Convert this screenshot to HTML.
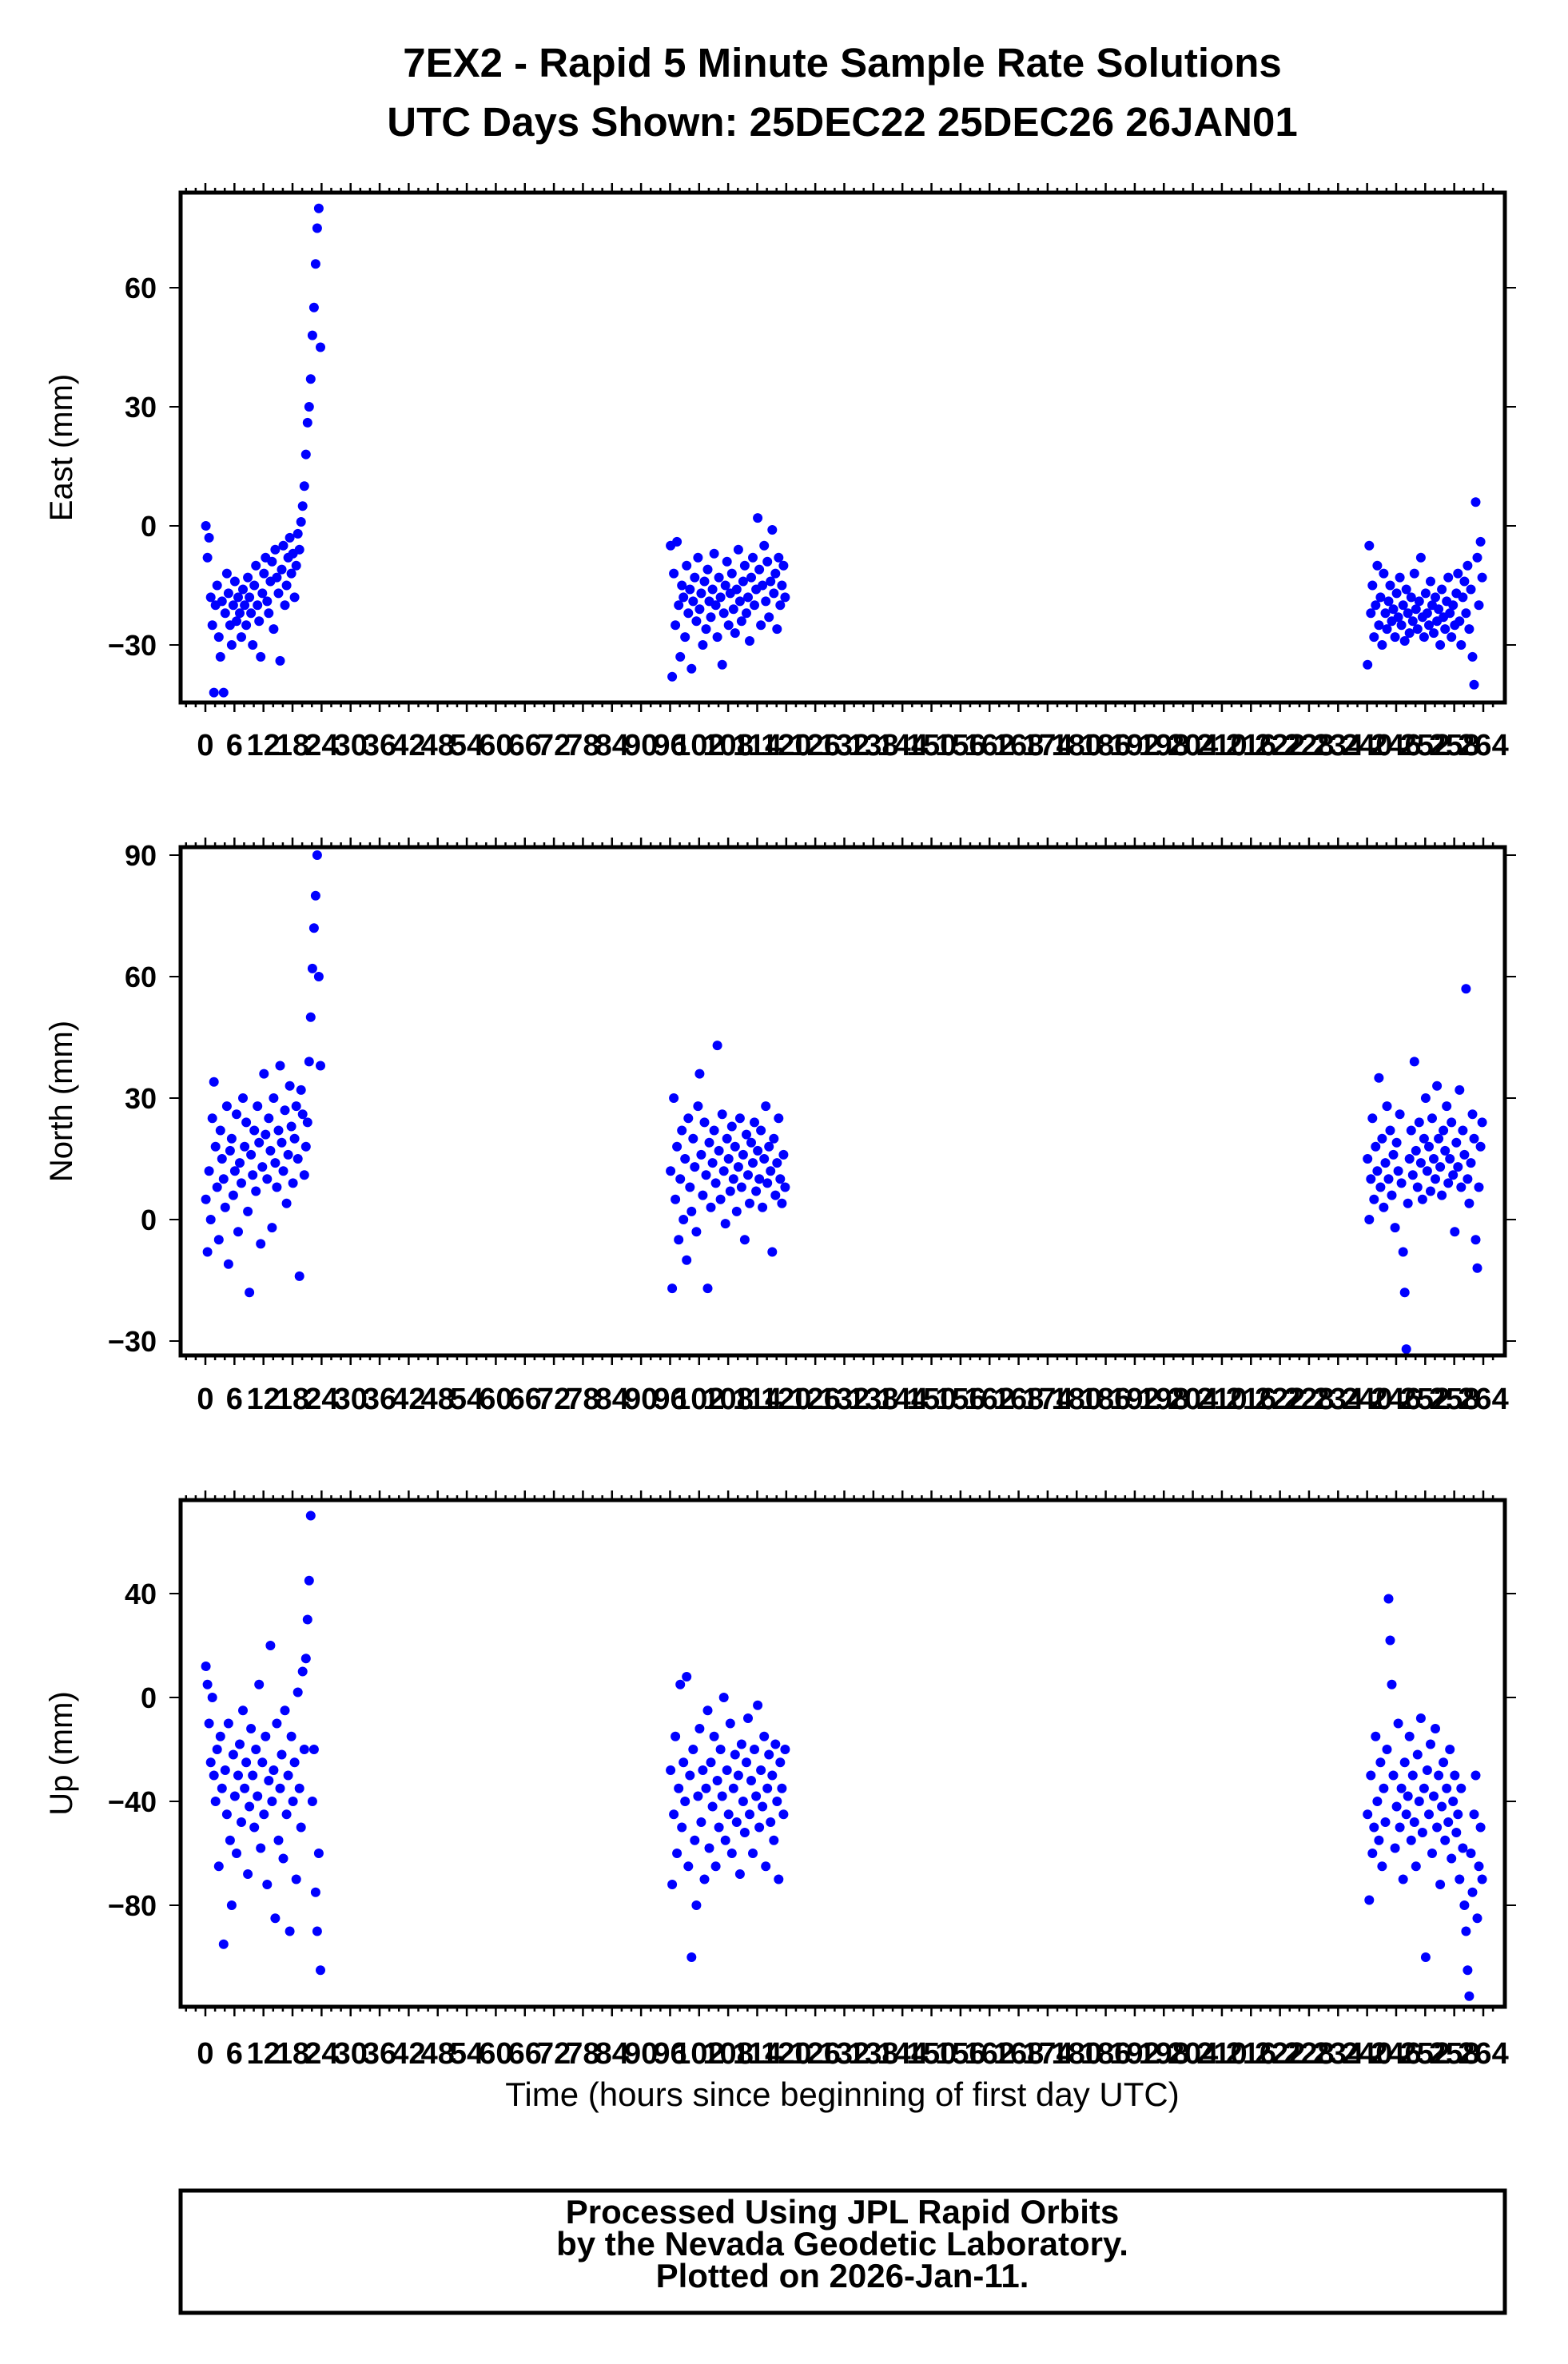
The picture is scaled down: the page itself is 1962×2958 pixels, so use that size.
<!DOCTYPE html>
<html><head><meta charset="utf-8"><style>
html,body{margin:0;padding:0;background:#fff;}
svg{display:block;font-family:"Liberation Sans",sans-serif;}
</style></head><body>
<svg id="chart" width="1962" height="2958" viewBox="0 0 1962 2958" xmlns="http://www.w3.org/2000/svg">
<rect x="0" y="0" width="1962" height="2958" fill="#fff"/>
<text x="1054" y="96" text-anchor="middle" font-size="51" font-weight="bold">7EX2 - Rapid 5 Minute Sample Rate Solutions</text>
<text x="1054" y="170" text-anchor="middle" font-size="51" font-weight="bold">UTC Days Shown:  25DEC22 25DEC26 26JAN01</text>
<g id="panels"></g>
<text x="1054" y="2635" text-anchor="middle" font-size="42">Time (hours since beginning of first day UTC)</text>
<rect x="226" y="2741" width="1657" height="153" fill="none" stroke="#000" stroke-width="5"/>
<text x="1054" y="2782" text-anchor="middle" font-size="42" font-weight="bold">Processed Using JPL Rapid Orbits</text>
<text x="1054" y="2822" text-anchor="middle" font-size="42" font-weight="bold">by the Nevada Geodetic Laboratory.</text>
<text x="1054" y="2862" text-anchor="middle" font-size="42" font-weight="bold">Plotted on 2026-Jan-11.</text>
</svg>
<script>
// cluster start hours (5-min solutions sampled every 20 min here)
const clusterStarts = [0, 96, 240];
const sampleStep = 1/3;
const xTickLabels = [0,6,12,18,24,30,36,42,48,54,60,66,72,78,84,90,96,102,108,114,120,126,132,138,144,150,156,162,168,174,180,186,192,198,204,210,216,222,228,234,240,246,252,258,264];

const east1 = [0,-8,-3,-18,-25,-42,-20,-15,-28,-33,-19,-42,-22,-12,-17,-25,-30,-20,-14,-24,-18,-22,-28,-16,-20,-25,-13,-18,-22,-30,-15,-10,-20,-24,-33,-17,-12,-8,-19,-22,-14,-9,-26,-6,-13,-17,-34,-11,-5,-20,-15,-8,-3,-12,-7,-18,-10,-2,-6,1,5,10,18,26,30,37,48,55,66,75,80,45];
const east2 = [-5,-38,-12,-25,-4,-20,-33,-15,-18,-28,-10,-22,-16,-36,-19,-13,-24,-8,-21,-17,-30,-14,-26,-11,-19,-23,-16,-7,-20,-28,-13,-18,-35,-22,-15,-9,-25,-17,-12,-21,-27,-16,-6,-19,-24,-14,-10,-22,-18,-29,-13,-8,-20,-16,2,-11,-25,-15,-5,-19,-9,-23,-14,-1,-17,-12,-26,-8,-20,-15,-10,-18];
const east3 = [-35,-5,-22,-15,-28,-20,-10,-25,-18,-30,-12,-22,-26,-19,-15,-24,-21,-28,-17,-23,-13,-25,-20,-29,-16,-22,-27,-18,-24,-12,-21,-26,-19,-8,-23,-28,-17,-22,-25,-14,-20,-27,-18,-24,-21,-30,-16,-23,-26,-19,-13,-22,-28,-20,-25,-17,-12,-24,-30,-18,-14,-22,-10,-26,-16,-33,-40,6,-8,-20,-4,-13];
const north1 = [5,-8,12,0,25,34,18,8,-5,22,15,10,3,28,-11,17,20,6,12,26,-3,14,9,30,18,24,2,-18,16,11,22,7,28,19,-6,13,36,21,10,25,17,-2,30,14,8,22,38,19,12,27,4,16,33,23,9,20,28,15,-14,32,26,11,18,24,39,50,62,72,80,90,60,38];
const north2 = [12,-17,30,5,18,-5,10,22,0,15,-10,25,8,2,20,13,-3,28,36,16,6,24,11,-17,19,3,14,22,9,43,17,5,26,12,-1,20,15,7,23,10,18,2,13,25,8,16,-5,21,11,4,19,14,24,7,17,10,22,3,15,28,9,18,12,-8,20,6,14,25,10,4,16,8];
const north3 = [15,0,10,25,5,18,12,35,8,20,3,14,28,10,22,6,16,-2,19,12,26,9,-8,-18,-32,4,15,22,11,39,17,8,24,14,5,20,30,12,18,7,25,15,10,33,20,13,6,22,17,28,9,15,24,11,-3,19,13,32,8,22,16,57,10,4,14,26,20,-5,-12,8,18,24];
const up1 = [12,5,-10,-25,0,-30,-40,-20,-65,-15,-35,-95,-28,-45,-10,-55,-80,-22,-38,-60,-30,-18,-48,-5,-35,-25,-68,-42,-12,-30,-50,-20,-38,5,-58,-25,-45,-15,-72,-32,20,-40,-28,-85,-10,-55,-35,-22,-62,-5,-45,-30,-90,-15,-40,-25,-70,2,-35,-50,10,-20,15,30,45,70,-40,-20,-75,-90,-60,-105];
const up2 = [-28,-72,-45,-15,-60,-35,5,-50,-25,-40,8,-65,-30,-100,-20,-55,-80,-38,-12,-48,-28,-70,-35,-5,-58,-25,-42,-15,-65,-32,-50,-20,-38,0,-55,-28,-45,-10,-60,-35,-22,-48,-30,-68,-18,-40,-52,-25,-8,-45,-32,-60,-20,-38,-3,-50,-28,-42,-15,-65,-35,-22,-48,-30,-55,-18,-40,-70,-25,-35,-45,-20];
const up3 = [-45,-78,-30,-60,-50,-15,-40,-55,-25,-65,-35,-48,-20,38,22,5,-30,-58,-42,-10,-50,-35,-70,-25,-45,-38,-15,-55,-30,-48,-65,-22,-40,-8,-52,-35,-100,-28,-45,-18,-60,-38,-12,-50,-30,-72,-42,-25,-55,-35,-48,-20,-62,-40,-30,-52,-45,-70,-35,-58,-80,-90,-105,-115,-60,-75,-45,-30,-85,-65,-50,-70];

const eastTicks = [-30,0,30,60];
const northTicks = [-30,0,30,60,90];
const upTicks = [-80,-40,0,40];

const NS = 'http://www.w3.org/2000/svg';
const X0 = 226, X1 = 1883, H0 = 257, H264 = 1856;
function xScale(h){ return H0 + h*(H264-H0)/264; }
function mk(tag, attrs, parent){
  const e = document.createElementNS(NS, tag);
  for (const k in attrs) e.setAttribute(k, attrs[k]);
  parent.appendChild(e); return e;
}
const root = document.getElementById('panels');
const panels = [
  {name:'east', title:'East (mm)', top:241, bot:879, v0:0, p0:658, v1:60, p1:360, ticks:eastTicks, series:[east1,east2,east3], labelY:945},
  {name:'north', title:'North (mm)', top:1060, bot:1696, v0:0, p0:1526, v1:90, p1:1070, ticks:northTicks, series:[north1,north2,north3], labelY:1763},
  {name:'up', title:'Up (mm)', top:1877, bot:2511, v0:0, p0:2124, v1:40, p1:1994, ticks:upTicks, series:[up1,up2,up3], labelY:2582}
];
panels.forEach(p => {
  const g = mk('g', {}, root);
  
  
  const yScale = v => p.p0 + (v - p.v0)*(p.p1 - p.p0)/(p.v1 - p.v0);
  const pts = mk('g', {fill:'#0000ff'}, g);
  
  
  p.series.forEach((arr, ci) => {
    arr.forEach((v, i) => {
      const c = mk('circle', {cx:xScale(clusterStarts[ci] + i*sampleStep + 0.1).toFixed(1), cy:yScale(v).toFixed(1), r:6}, pts);
      
      
    });
  });
  const tk = mk('g', {stroke:'#000', 'stroke-width':2.5}, g);
  
  
  for (let h = -4; h <= 268; h += 2) {
    const x = xScale(h);
    if (x < X0 + 3 || x > X1 - 3) continue;
    const len = (h % 6 === 0) ? 12 : 6;
    mk('line', {x1:x, x2:x, y1:p.top, y2:p.top - len}, tk);
    mk('line', {x1:x, x2:x, y1:p.bot, y2:p.bot + len}, tk);
  }
  const xl = mk('g', {'font-size':38, 'font-weight':'bold', 'text-anchor':'middle'}, g);
  
  
  xTickLabels.forEach(h => {
    const t = mk('text', {x:xScale(h), y:p.labelY}, xl);
    t.textContent = h;
    
    
  });
  const yl = mk('g', {'font-size':36, 'font-weight':'bold', 'text-anchor':'end'}, g);
  
  
  p.ticks.forEach(v => {
    const y = yScale(v);
    mk('line', {x1:X0, x2:X0 - 14, y1:y, y2:y, stroke:'#000', 'stroke-width':2}, g);
    mk('line', {x1:X1, x2:X1 + 14, y1:y, y2:y, stroke:'#000', 'stroke-width':2}, g);
    const t = mk('text', {x:X0 - 30, y:y + 13}, yl);
    t.textContent = v < 0 ? '\u2212' + Math.abs(v) : v;
    
    
  });
  const fr = mk('rect', {x:X0, y:p.top, width:X1 - X0, height:p.bot - p.top, fill:'none', stroke:'#000', 'stroke-width':5}, g);
  
  
  const cy = (p.top + p.bot)/2;
  const at = mk('text', {x:90, y:cy, 'font-size':40, 'text-anchor':'middle', transform:'rotate(-90 90 ' + cy + ')'}, g);
  at.textContent = p.title;
  
  
});
</script>
</body></html>
